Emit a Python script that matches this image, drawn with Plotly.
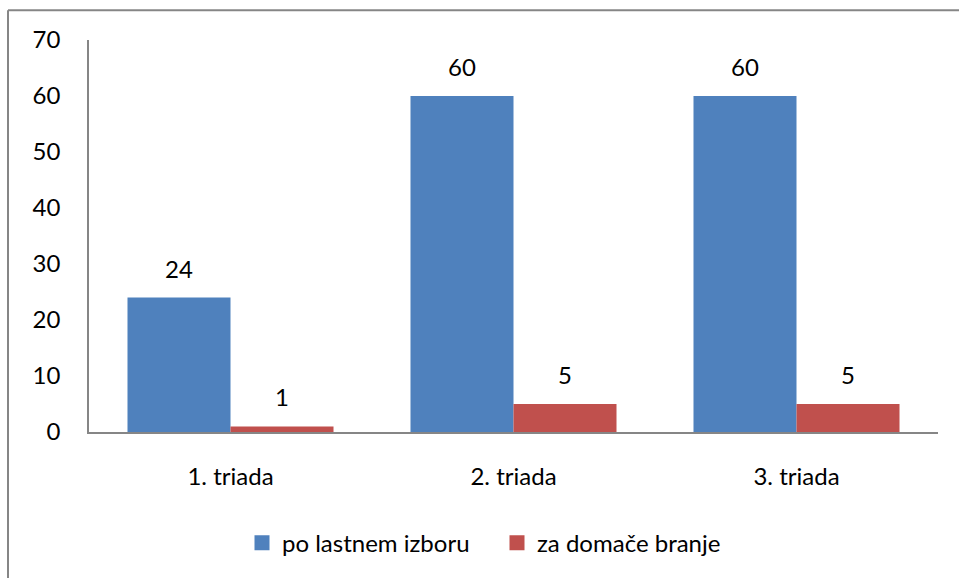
import plotly.graph_objects as go

categories = ["1. triada", "2. triada", "3. triada"]
series_names = ["po lastnem izboru", "za domače branje"]
po_lastnem_izboru = [24, 60, 60]
za_domace_branje = [1, 5, 5]
y_ticks = [0, 10, 20, 30, 40, 50, 60, 70]

colors = ["#4F81BD", "#C0504D"]
FONT = "Lato, Carlito, Calibri, 'Open Sans', sans-serif"
FS = 24

W, H = 959, 578
PL, PR, PT, PB = 89, 938, 40, 435  # plot area in window pixels
ML, MR, MT, MB = PL, W - PR, PT, H - PB
pw, ph = W - ML - MR, H - MT - MB

fig = go.Figure()
values = [po_lastnem_izboru, za_domace_branje]
for name, vals, col in zip(series_names, values, colors):
    fig.add_trace(go.Bar(
        x=categories, y=vals, name=name, marker_color=col,
        marker_line=dict(color=col, width=0), showlegend=False,
    ))
# legend proxies with larger squares
for name, col in zip(series_names, colors):
    fig.add_trace(go.Scatter(
        x=[None], y=[None], mode="markers", name=name,
        marker=dict(symbol="square", size=15, color=col),
    ))

# data labels
bargap = 0.272
half = (1 - bargap) / 4
for si, vals in enumerate(values):
    off = -half if si == 0 else half
    for ci, v in enumerate(vals):
        fig.add_annotation(
            x=ci + off, y=v, xref="x", yref="y", text=str(v),
            showarrow=False, yanchor="bottom", yshift=13,
            font=dict(family=FONT, size=FS, color="#000000"),
        )

fig.update_layout(
    width=W, height=H,
    margin=dict(l=ML, r=MR, t=MT, b=MB),
    plot_bgcolor="white", paper_bgcolor="white",
    barmode="group", bargap=bargap, bargroupgap=0,
    font=dict(family=FONT, size=FS, color="#000000"),
    showlegend=True,
    legend=dict(
        orientation="h", x=(242 - PL) / pw, xanchor="left",
        y=(PB - 547) / ph, yanchor="middle",
        font=dict(family=FONT, size=FS, color="#000000"),
        itemwidth=30, entrywidth=210,
    ),
)
fig.update_xaxes(
    type="category", range=[-0.5, 2.5],
    showline=True, linecolor="#868686", linewidth=1.5,
    ticks="", showgrid=False, ticklabelstandoff=22,
)
fig.update_yaxes(
    range=[0, 70], tickvals=y_ticks,
    showline=True, linecolor="#868686", linewidth=1.5,
    ticks="", showgrid=False, zeroline=False, ticklabelstandoff=22,
)

# chart frame: only left and top edges are inside the visible area
fx = (8 - ML) / pw
fy = (PB - 10) / ph
fig.add_shape(type="line", xref="paper", yref="paper",
              x0=fx, x1=fx, y0=-(MB + 20) / ph, y1=fy,
              line=dict(color="#868686", width=2), layer="below")
fig.add_shape(type="line", xref="paper", yref="paper",
              x0=fx, x1=(W + 20 - ML) / pw, y0=fy, y1=fy,
              line=dict(color="#868686", width=2), layer="below")

fig.write_html(
    "out.html",
    config={"displayModeBar": False},
    post_script="document.body.style.margin='0';"
                "document.documentElement.style.overflow='hidden';",
)
